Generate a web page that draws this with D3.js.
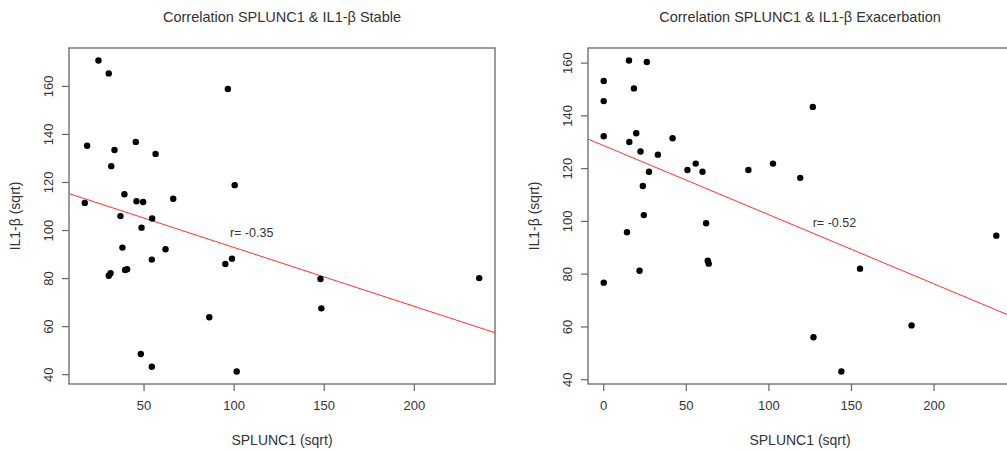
<!DOCTYPE html>
<html>
<head>
<meta charset="utf-8">
<title>Correlation SPLUNC1 & IL1-β</title>
<style>
    body { margin: 0; padding: 0; background: #fff; }
    svg text { font-family: "Liberation Sans", Arial, sans-serif; fill: #333; }
</style>
</head>
<body>
<svg width="1007" height="450"></svg>
<script src="https://cdnjs.cloudflare.com/ajax/libs/d3/7.8.5/d3.min.js"></script>
<script>
// stable group: SPLUNC1 (sqrt) vs IL1-beta (sqrt)
var stableX = [25, 30.7, 96.8, 18.7, 33.9, 45.7, 56.7, 32.1, 39.4, 46.1, 49.8, 66.5, 17.4, 100.6, 37.2, 54.8, 48.9,
    38.3, 62.2, 54.6, 95.4, 99.1, 30.7, 31.7, 39.8, 40.9, 86.5, 48.5, 54.6, 101.7, 148.2, 148.7, 236.3];
var stableY = [170.8, 165.4, 158.9, 135.3, 133.5, 136.9, 131.9, 126.8, 115.1, 112.2, 111.9, 113.2, 111.5, 118.9, 106, 105, 101.2,
    92.9, 92.2, 87.9, 86.1, 88.3, 81.2, 82.2, 83.6, 83.9, 63.9, 48.6, 43.3, 41.3, 79.8, 67.6, 80.2];

// exacerbation group
var exacX = [0.3, 0.3, 0.3, 15.6, 26.4, 18.6, 20, 15.8, 22.6, 33.1, 42, 27.7, 24, 51, 56, 60.1, 87.9, 24.6, 62.3, 14.4,
    126.9, 102.8, 119.3, 238, 0.3, 22, 63.3, 63.9, 155.5, 127.3, 144.2, 186.7];
var exacY = [153.2, 145.6, 132.3, 161, 160.4, 150.4, 133.4, 130.1, 126.5, 125.3, 131.5, 118.8, 113.4, 119.5, 121.9, 118.8, 119.5, 102.4, 99.3, 95.9,
    143.4, 121.9, 116.5, 94.6, 76.8, 81.3, 85.1, 84, 82.1, 56.1, 43.1, 60.6];

// regression lines (intercept, slope) and r labels
var stableFit = [117.5, -0.245];
var exacFit = [128.8, -0.262];
var stableR = "r= -0.35", exacR = "r= -0.52";
var stableRPos = [110, 99], exacRPos = [140, 99.5];

var xTicksStable = [50, 100, 150, 200];
var xTicksExac = [0, 50, 100, 150, 200];
var yTicks = [40, 60, 80, 100, 120, 140, 160];

var svg = d3.select("svg");

// R style axis range: data extent padded 4% each side
function rRange(v) {
    var e = d3.extent(v), p = (e[1] - e[0]) * 0.04;
    return [e[0] - p, e[1] + p];
}

function panel(opt) {
    var x = d3.scaleLinear().domain(rRange(opt.xs)).range([opt.left, opt.right]);
    var y = d3.scaleLinear().domain(rRange(opt.ys)).range([opt.bottom, opt.top]);
    var g = svg.append("g");

    g.append("clipPath").attr("id", opt.id)
        .append("rect")
        .attr("x", opt.left).attr("y", opt.top)
        .attr("width", opt.right - opt.left).attr("height", opt.bottom - opt.top);

    // title
    g.append("text")
        .attr("x", (opt.left + opt.right) / 2).attr("y", 22)
        .attr("text-anchor", "middle")
        .style("font-size", "14.5px")
        .text(opt.title);

    // axes
    var xa = g.append("g").attr("transform", "translate(0," + opt.bottom + ")")
        .call(d3.axisBottom(x).tickValues(opt.xTicks).tickSize(7).tickPadding(10));
    var ya = g.append("g").attr("transform", "translate(" + opt.left + ",0)")
        .call(d3.axisLeft(y).tickValues(yTicks).tickSize(7).tickPadding(0));
    xa.select(".domain").remove();
    ya.select(".domain").remove();
    g.selectAll(".tick line").attr("stroke", "#666").attr("stroke-width", 1.2);
    xa.selectAll("text").style("font-size", "13px").attr("fill", "#333");
    ya.selectAll("text").style("font-size", "13px").attr("fill", "#333")
        .attr("text-anchor", "middle")
        .attr("transform", function (d) { return "translate(" + (-21) + "," + y(d) + ") rotate(-90)"; })
        .attr("x", 0).attr("dy", "0.35em")
        .attr("y", function () { return 0; });
    ya.selectAll(".tick").attr("transform", null);
    ya.selectAll(".tick line").attr("transform", function (d) { return "translate(0," + y(d) + ")"; });

    // box
    g.append("rect")
        .attr("x", opt.left).attr("y", opt.top)
        .attr("width", opt.right - opt.left).attr("height", opt.bottom - opt.top)
        .attr("fill", "none").attr("stroke", "#666").attr("stroke-width", 1.3);

    // axis labels
    g.append("text")
        .attr("x", (opt.left + opt.right) / 2).attr("y", 445)
        .attr("text-anchor", "middle")
        .style("font-size", "14px")
        .text("SPLUNC1 (sqrt)");
    g.append("text")
        .attr("transform", "translate(" + (opt.left - 49) + "," + ((opt.top + opt.bottom) / 2) + ") rotate(-90)")
        .attr("text-anchor", "middle")
        .style("font-size", "14px")
        .text("IL1-β (sqrt)");

    // regression line
    var xd = x.domain();
    g.append("line")
        .attr("clip-path", "url(#" + opt.id + ")")
        .attr("x1", x(xd[0])).attr("y1", y(opt.fit[0] + opt.fit[1] * xd[0]))
        .attr("x2", x(xd[1])).attr("y2", y(opt.fit[0] + opt.fit[1] * xd[1]))
        .attr("stroke", "#ff3030").attr("stroke-width", 1);

    // points
    g.append("g").selectAll("circle")
        .data(opt.xs.map(function (d, i) { return [d, opt.ys[i]]; }))
        .enter().append("circle")
        .attr("cx", function (d) { return x(d[0]); })
        .attr("cy", function (d) { return y(d[1]); })
        .attr("r", 3.2)
        .attr("fill", "#000");

    // r label
    g.append("text")
        .attr("x", x(opt.rPos[0])).attr("y", y(opt.rPos[1]))
        .attr("dy", "0.35em")
        .attr("text-anchor", "middle")
        .style("font-size", "12.5px")
        .text(opt.r);
}

panel({id: "c1", title: "Correlation SPLUNC1 & IL1-β Stable", xs: stableX, ys: stableY,
    fit: stableFit, r: stableR, rPos: stableRPos, xTicks: xTicksStable,
    left: 69, right: 495, top: 48, bottom: 384});
panel({id: "c2", title: "Correlation SPLUNC1 & IL1-β Exacerbation", xs: exacX, ys: exacY,
    fit: exacFit, r: exacR, rPos: exacRPos, xTicks: xTicksExac,
    left: 588, right: 1012, top: 48, bottom: 384});
</script>
</body>
</html>
